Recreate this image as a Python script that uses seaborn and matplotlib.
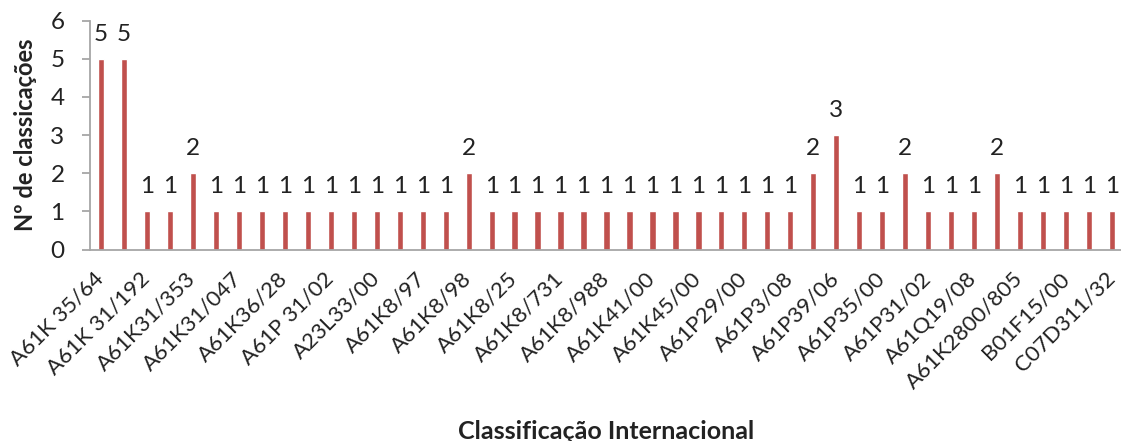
import matplotlib
matplotlib.use("Agg")
import matplotlib.pyplot as plt
from matplotlib.transforms import ScaledTranslation
import pandas as pd
import seaborn as sns

# Number of classifications per IPC code (one bar per code)
counts = [5, 5, 1, 1, 2,
          1, 1, 1, 1, 1, 1, 1, 1, 1, 1, 1,
          2,
          1, 1, 1, 1, 1, 1, 1, 1, 1, 1, 1, 1, 1, 1,
          2, 3, 1, 1, 2, 1, 1, 1, 2, 1, 1, 1, 1, 1]

# Codes printed on the axis (every second bar carries a label)
tick_labels = ["A61K 35/64", "A61K 31/192", "A61K31/353", "A61K31/047",
               "A61K36/28", "A61P 31/02", "A23L33/00", "A61K8/97",
               "A61K8/98", "A61K8/25", "A61K8/731", "A61K8/988",
               "A61K41/00", "A61K45/00", "A61P29/00", "A61P3/08",
               "A61P39/06", "A61P35/00", "A61P31/02", "A61Q19/08",
               "A61K2800/805", "B01F15/00", "C07D311/32"]

bar_color = "#C0504D"
axis_color = "#A6A6A6"
text_color = "#222222"

sns.set_theme(style="white")
plt.rcParams["font.family"] = ["Lato", "DejaVu Sans"]

W, H = 1121, 441
fig = plt.figure(figsize=(W / 100, H / 100), dpi=100)
ax = fig.add_axes([89.5 / W, 1 - 249.5 / H, 1034 / W, (249.5 - 20.7) / H])

df = pd.DataFrame({"pos": range(len(counts)), "n": counts})
sns.barplot(data=df, x="pos", y="n", color=bar_color, width=0.27,
            saturation=1, ax=ax, errorbar=None)

ax.set_xlim(-0.5, len(counts) - 0.5)
ax.set_ylim(0, 6)
ax.set_yticks(range(0, 7))

# value labels on top of every bar
ax.bar_label(ax.containers[0], fmt="%d", padding=10, fontsize=17.5,
             color=text_color)

# spines
for side in ("top", "right"):
    ax.spines[side].set_visible(False)
for side in ("left", "bottom"):
    ax.spines[side].set_color(axis_color)
    ax.spines[side].set_linewidth(1.3)

# y axis ticks
ax.tick_params(axis="y", left=True, length=6, width=1.3, color=axis_color,
               pad=12, labelsize=17.5, labelcolor=text_color, direction="out")

# x axis: rotated labels on every second bar
ax.set_xticks(range(0, len(counts), 2))
ax.set_xticklabels(tick_labels, rotation=45, ha="right", va="baseline",
                   rotation_mode="anchor", fontsize=16, color=text_color)
ax.tick_params(axis="x", bottom=False, length=0, pad=0)
shift = ScaledTranslation(0.04, -0.30, fig.dpi_scale_trans)
for lab in ax.get_xticklabels():
    lab.set_transform(lab.get_transform() + shift)

ax.set_xlabel("Classificação Internacional", fontsize=18, fontweight="bold",
              color=text_color)
ax.xaxis.set_label_coords(0.5, -0.745)
ax.set_ylabel("Nº de classicações", fontsize=17, fontweight="bold",
              color=text_color)
ax.yaxis.set_label_coords(-0.051, 0.5)

fig.savefig("out.png", dpi=100)
